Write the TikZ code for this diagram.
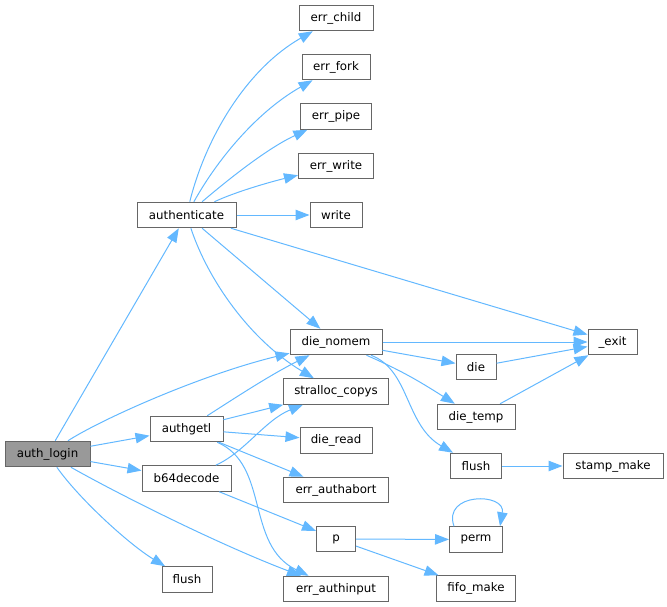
\documentclass[tikz,border=0pt]{standalone}
\usepackage{fontspec}
\setmainfont{DejaVu Sans}
\usetikzlibrary{arrows.meta}
\definecolor{edgeblue}{HTML}{63B8FF}
\definecolor{boxborder}{HTML}{666666}
\definecolor{rootfill}{HTML}{999999}
\tikzset{
  box/.style={draw=boxborder, line width=1pt, fill=white, rectangle, inner sep=0pt,
    minimum height=25.5pt, font=\fontsize{11.8}{13}\selectfont, text=black},
  rootbox/.style={box, fill=rootfill},
  edge/.style={draw=edgeblue, line width=1pt, -{Triangle[length=14pt,width=10.5pt]}},
}
\begin{document}
\begin{tikzpicture}[x=1pt,y=-1pt]
\useasboundingbox (0,0) rectangle (667,607);
% nodes
\node[rootbox, minimum width=85pt] (auth_login) at (47.5,454) {auth\_login};
\node[box, minimum width=99pt] (authenticate) at (186.5,215) {authenticate};
\node[box, minimum width=73pt] (authgetl) at (186.5,429) {authgetl};
\node[box, minimum width=89pt] (b64decode) at (186.5,478.5) {b64decode};
\node[box, minimum width=50pt] (flushA) at (187,579.5) {flush};
\node[box, minimum width=74pt] (err_child) at (336,18) {err\_child};
\node[box, minimum width=68pt] (err_fork) at (336,67) {err\_fork};
\node[box, minimum width=71pt] (err_pipe) at (336,116.5) {err\_pipe};
\node[box, minimum width=75pt] (err_write) at (336,166) {err\_write};
\node[box, minimum width=52pt] (write) at (336,215) {write};
\node[box, minimum width=92pt] (die_nomem) at (336,342) {die\_nomem};
\node[box, minimum width=105pt] (stralloc_copys) at (336,391.5) {stralloc\_copys};
\node[box, minimum width=72pt] (die_read) at (336,440.5) {die\_read};
\node[box, minimum width=105pt] (err_authabort) at (336,490) {err\_authabort};
\node[box, minimum width=39pt] (p) at (336,539) {p};
\node[box, minimum width=105pt] (err_authinput) at (336,589) {err\_authinput};
\node[box, minimum width=49pt] (exit) at (612.5,342) {\_exit};
\node[box, minimum width=40pt] (die) at (476,367) {die};
\node[box, minimum width=78pt] (die_temp) at (476,417) {die\_temp};
\node[box, minimum width=51pt] (flushB) at (476,466) {flush};
\node[box, minimum width=100pt] (stamp_make) at (613,466) {stamp\_make};
\node[box, minimum width=53pt] (perm) at (476,539.5) {perm};
\node[box, minimum width=79pt] (fifo_make) at (476,588.5) {fifo\_make};
% edges from auth_login
\draw[edge] (auth_login) -- (authenticate);
\draw[edge] (auth_login) .. controls (100,420) and (200,375) .. (die_nomem);
\draw[edge] (auth_login) -- (authgetl);
\draw[edge] (auth_login) -- (b64decode);
\draw[edge] (auth_login) .. controls (80,500) and (130,545) .. (flushA);
\draw[edge] (auth_login) .. controls (120,495) and (220,545) .. (err_authinput);
% edges from authenticate
\draw[edge] (authenticate) .. controls (205,140) and (245,70) .. (err_child);
\draw[edge] (authenticate) .. controls (220,155) and (260,110) .. (err_fork);
\draw[edge] (authenticate) .. controls (230,178) and (268,148) .. (err_pipe);
\draw[edge] (authenticate) .. controls (235,192) and (270,182) .. (err_write);
\draw[edge] (authenticate) -- (write);
\draw[edge] (authenticate) -- (exit);
\draw[edge] (authenticate) -- (die_nomem);
\draw[edge] (authenticate) .. controls (208,280) and (250,340) .. (stralloc_copys);
% edges from authgetl
\draw[edge] (authgetl) .. controls (235,398) and (270,375) .. (die_nomem);
\draw[edge] (authgetl) -- (stralloc_copys);
\draw[edge] (authgetl) -- (die_read);
\draw[edge] (authgetl) -- (err_authabort);
\draw[edge] (authgetl) .. controls (270,465) and (245,545) .. (err_authinput);
% edges from b64decode
\draw[edge] (b64decode) .. controls (245,452) and (265,420) .. (stralloc_copys);
\draw[edge] (b64decode) -- (p);
% edges from die_nomem
\draw[edge] (die_nomem) -- (exit);
\draw[edge] (die_nomem) -- (die);
\draw[edge] (die_nomem) .. controls (405,372) and (425,385) .. (die_temp);
\draw[edge] (die_nomem) .. controls (410,370) and (405,425) .. (flushB);
\draw[edge] (die) -- (exit);
\draw[edge] (die_temp) -- (exit);
\draw[edge] (flushB) -- (stamp_make);
\draw[edge] (p) -- (perm);
\draw[edge] (p) -- (fifo_make);
\draw[edge] ([xshift=-22pt]perm.north) .. controls +(-12,-34) and +(6,-34) .. ([xshift=24pt]perm.north);
\end{tikzpicture}
\end{document}
